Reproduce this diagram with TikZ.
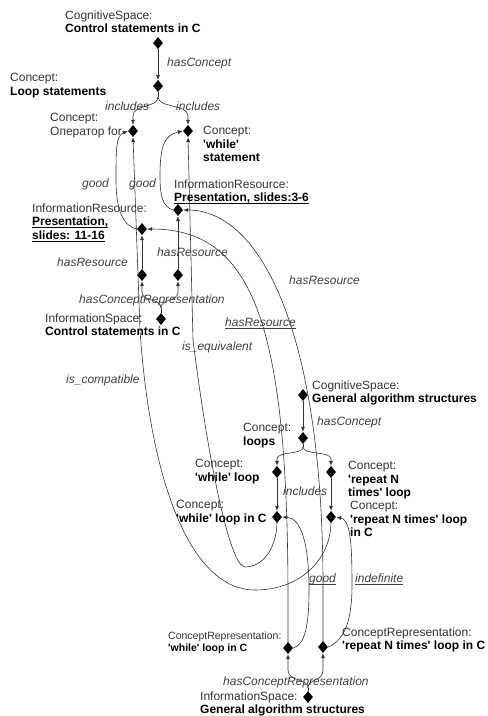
\documentclass[tikz,border=0pt]{standalone}
\usepackage{fontspec}
\newfontfamily\af{Liberation Sans}
\usetikzlibrary{arrows.meta,shapes.geometric}
\newsavebox\ulbox
\newcommand\ulx[1]{\sbox\ulbox{#1}\rlap{\rule[-2.6pt]{\wd\ulbox}{0.8pt}}\usebox\ulbox}
\newcommand\bt[1]{\textcolor{black}{\textbf{#1}}}
\begin{document}
\begin{tikzpicture}[x=1pt,y=-1pt,
  dia/.style={shape=diamond,fill=black,draw=none,inner sep=0pt,minimum width=10pt,minimum height=12pt},
  conn/.style={draw=black!80,line width=0.6pt},
  arr/.style={conn,-{Latex[length=5pt,width=4pt]}},
  txt/.style={anchor=north west,inner sep=0pt,align=left,text=black!80,font=\af\fontsize{12}{13.5}\selectfont},
  stxt/.style={anchor=north west,inner sep=0pt,align=left,text=black!80,font=\af\fontsize{10.5}{12}\selectfont},
  lab/.style={anchor=base west,inner sep=0pt,text=black!75,font=\af\fontsize{12}{13.5}\selectfont\itshape},
]
\useasboundingbox (0,0) rectangle (488,716);

% ---------- diamonds ----------
\node[dia] (cs1) at (158,43) {};
\node[dia] (ls) at (158,86) {};
\node[dia] (cfor) at (133,131) {};
\node[dia] (cwh) at (188,131) {};
\node[dia] (ir36) at (178,210) {};
\node[dia] (ir11) at (142,229) {};
\node[dia] (cr1a) at (142,275) {};
\node[dia] (cr1b) at (178,275) {};
\node[dia] (is1) at (161,319) {};
\node[dia] (cs2) at (303,395) {};
\node[dia] (lp) at (303,438) {};
\node[dia] (wl) at (277,472) {};
\node[dia] (rl) at (331,472) {};
\node[dia] (wlc) at (277,517) {};
\node[dia] (rlc) at (331,517) {};
\node[dia] (crw) at (288,648) {};
\node[dia] (crr) at (323,647) {};
\node[dia] (is2) at (308,697) {};

\coordinate (j1) at (158,97);
\coordinate (j2) at (161,308);
\coordinate (j3) at (303,447);
\coordinate (j4) at (308,688);

% ---------- connectors ----------
\draw[arr] (cs1) -- (ls);
\draw[conn] (ls.south) -- (j1);
\draw[arr] (j1) .. controls (158,108) and (133,104) .. (133,116) -- (cfor.north);
\draw[arr] (j1) .. controls (158,108) and (188,104) .. (188,116) -- (cwh.north);

\draw[conn] (is1.north) -- (j2);
\draw[arr] (j2) .. controls (161,298) and (142,302) .. (142,292) -- (cr1a.south);
\draw[arr] (j2) .. controls (161,298) and (178,302) .. (178,292) -- (cr1b.south);
\draw[arr] (cr1a) -- (ir11);
\draw[arr] (cr1b) -- (ir36);

\draw[arr] (ir11.west) .. controls (124,226) and (116,212) .. (116,180) .. controls (116,148) and (116,136) .. (cfor.west);
\draw[arr] (ir36.west) .. controls (162,206) and (160,195) .. (160,175) .. controls (160,145) and (165,135) .. (cwh.west);

\draw[arr] (crw.north) -- (288,600) .. controls (288,330) and (255,229) .. (ir11.east);
\draw[arr] (crr.north) -- (323,580) .. controls (322,330) and (260,210) .. (ir36.east);

\draw[arr] (rlc.south) .. controls (330,560) and (300,590) .. (255,590) .. controls (190,590) and (150,480) .. (140,330) -- (cfor.south);
\draw[arr] (wlc.south) .. controls (276,550) and (262,567) .. (245,567) .. controls (230,567) and (208,460) .. (193,340) -- (cwh.south);

\draw[arr] (cs2) -- (lp);
\draw[conn] (lp.south) -- (j3);
\draw[arr] (j3) .. controls (303,455) and (277,451) .. (277,459) -- (wl.north);
\draw[arr] (j3) .. controls (303,455) and (331,451) .. (331,459) -- (rl.north);
\draw[arr] (wl) -- (wlc);
\draw[arr] (rl) -- (rlc);

\draw[arr] (crw.east) .. controls (305,645) and (309,625) .. (309,590) .. controls (309,540) and (300,518) .. (wlc.east);
\draw[arr] (crr.east) .. controls (345,640) and (352,620) .. (352,585) .. controls (352,540) and (350,520) .. (rlc.east);

\draw[conn] (is2.north) -- (j4);
\draw[arr] (j4) .. controls (308,678) and (288,682) .. (288,670) -- (crw.south);
\draw[arr] (j4) .. controls (308,678) and (323,682) .. (323,670) -- (crr.south);

% ---------- texts ----------
\node[txt] (tcs1) at (65,10.2) {CognitiveSpace:\\\bt{Control statements in C}};
\node[txt] (tls) at (10,73.2) {Concept:\\\bt{Loop statements}};
\node[txt] (tfor) at (50,113.2) {Concept:\\Оператор for};
\node[txt] (tcwh) at (203,126.2) {Concept:\\\bt{'while'}\\\bt{statement}};
\node[txt] (tir36) at (174,179.2) {InformationResource:\\\bt{\ulx{Presentation, slides:3-6}}};
\node[txt] (tir11) at (32,203.2) {InformationResource:\\\bt{\ulx{Presentation,}}\\\bt{\ulx{slides: 11-16}}};
\node[txt] (tis1) at (45,313.2) {InformationSpace:\\\bt{Control statements in C}};
\node[txt] (tcs2) at (312,380.2) {CognitiveSpace:\\\bt{General algorithm structures}};
\node[txt] (tlp) at (243,423.2) {Concept:\\\bt{loops}};
\node[txt] (twl) at (195,459.2) {Concept:\\\bt{'while' loop}};
\node[txt] (trl) at (348,461.2) {Concept:\\\bt{'repeat N}\\\bt{times' loop}};
\node[txt] (twlc) at (176,500.2) {Concept:\\\bt{'while' loop in C}};
\node[txt] (trlc) at (350,501.2) {Concept:\\\bt{'repeat N times' loop}\\\bt{in C}};
\node[stxt] (tcrw) at (168,631.3) {ConceptRepresentation:\\\bt{'while' loop in C}};
\node[txt] (tcrr) at (342,627.2) {ConceptRepresentation:\\\bt{'repeat N times' loop in C}};
\node[txt] (tis2) at (200,691.2) {InformationSpace:\\\bt{General algorithm structures}};

% ---------- edge labels ----------
\node[lab] (l1) at (167,66) {hasConcept};
\node[lab] (l2) at (105,110) {includes};
\node[lab] (l3) at (176,110) {includes};
\node[lab] (l4) at (82,187) {good};
\node[lab] (l5) at (129,187) {good};
\node[lab] (l6) at (57,266) {hasResource};
\node[lab] (l7) at (157,256) {hasResource};
\node[lab] (l8) at (79,303) {hasConceptRepresentation};
\node[lab] (l9) at (225,326) {\ulx{hasResource}};
\node[lab] (l10) at (289,284) {hasResource};
\node[lab] (l11) at (182,350) {is\_equivalent};
\node[lab] (l12) at (66,383) {is\_compatible};
\node[lab] (l13) at (317,425) {hasConcept};
\node[lab] (l14) at (283,495) {includes};
\node[lab] (l15) at (309,582) {\ulx{good}};
\node[lab] (l16) at (355,582) {\ulx{indefinite}};
\node[lab] (l17) at (223,685) {hasConceptRepresentation};
\end{tikzpicture}
\end{document}
